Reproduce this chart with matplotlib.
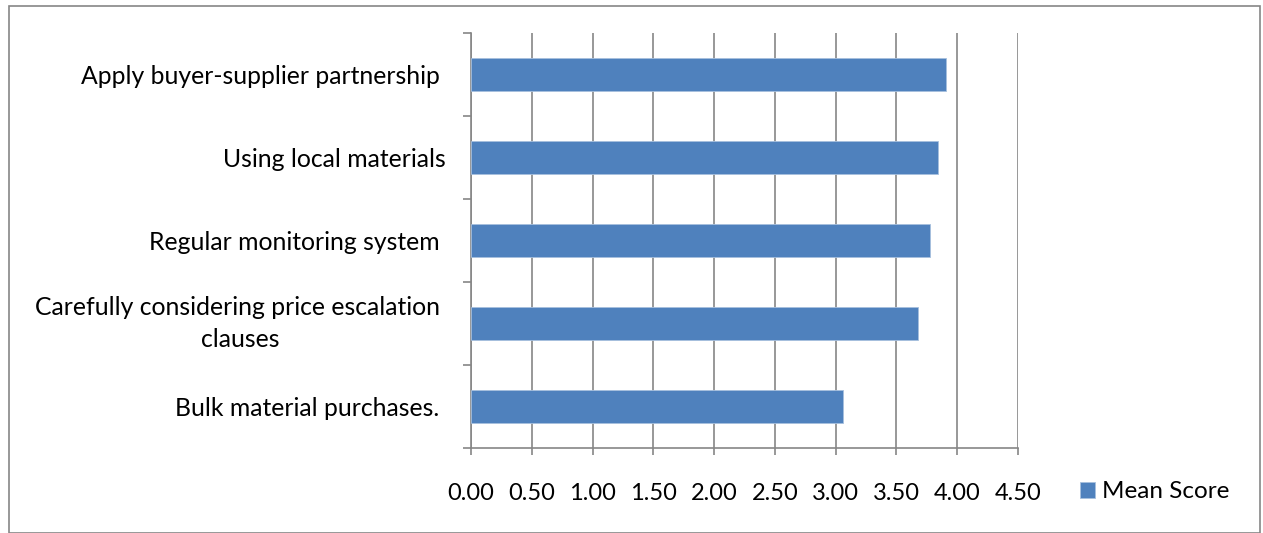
import matplotlib
matplotlib.use("Agg")
import matplotlib.pyplot as plt
from matplotlib.patches import Rectangle

categories = [
    "Bulk material purchases. ",
    "Carefully considering price escalation \nclauses",
    "Regular monitoring system ",
    "Using local materials",
    "Apply buyer-supplier partnership ",
]
mean_scores = [3.06, 3.68, 3.78, 3.84, 3.91]
x_ticks = [0.0, 0.5, 1.0, 1.5, 2.0, 2.5, 3.0, 3.5, 4.0, 4.5]
x_tick_labels = ["%.2f" % v for v in x_ticks]
series_name = "Mean Score"

plt.rcParams['font.family'] = ['Lato', 'DejaVu Sans']
W, H = 1263, 533
fig = plt.figure(figsize=(W / 100, H / 100), dpi=100)

# outer frame
fig.patches.append(Rectangle((9 / W, 0.5 / H), (1260 - 9) / W, (530 - 3) / H,
                             transform=fig.transFigure, fill=False,
                             edgecolor='#868686', linewidth=1.2))

left, right = 471 / W, 1018 / W
top, bottom = 1 - 33 / H, 1 - 448 / H
ax = fig.add_axes([left, bottom, right - left, top - bottom])

FS_CAT = 17.8
FS_TICK = 17
FS_LEG = 17.5
bar_color = '#4F81BD'
ypos = list(range(len(categories)))
ax.barh(ypos, mean_scores, height=0.4, color=bar_color, edgecolor='#A7C0DE',
        linewidth=0.6, zorder=3, label=series_name)

ax.set_xlim(0, 4.5)
ax.set_ylim(-0.5, len(categories) - 0.5)
ax.set_xticks(x_ticks)
ax.set_xticklabels(x_tick_labels, fontsize=FS_TICK)
ax.xaxis.grid(True, color='#868686', linewidth=1.2, zorder=0)
ax.set_yticks(ypos)
ax.set_yticklabels(categories, fontsize=FS_CAT, multialignment='center', linespacing=1.45)
for lbl in ax.get_yticklabels():
    if '\n' in lbl.get_text():
        lbl.set_verticalalignment('center')
ax.set_yticks([i - 0.5 for i in range(len(categories) + 1)], minor=True)
ax.tick_params(axis='y', which='major', length=0, pad=18)
ax.tick_params(axis='y', which='minor', length=5.5, width=1.2, color='#868686', direction='out')
ax.tick_params(axis='x', which='major', length=5, width=1.2, color='#868686', direction='out', pad=20)

for s in ['top', 'right']:
    ax.spines[s].set_visible(False)
for s in ['left', 'bottom']:
    ax.spines[s].set_color('#868686')
    ax.spines[s].set_linewidth(1.2)

leg = fig.legend(loc='center left', bbox_to_anchor=(1068 / W, 1 - 492 / H),
                 frameon=False, fontsize=FS_LEG, handlelength=0.6, handleheight=0.6,
                 handletextpad=0.3, borderpad=0)

fig.savefig("out.png", dpi=100)
